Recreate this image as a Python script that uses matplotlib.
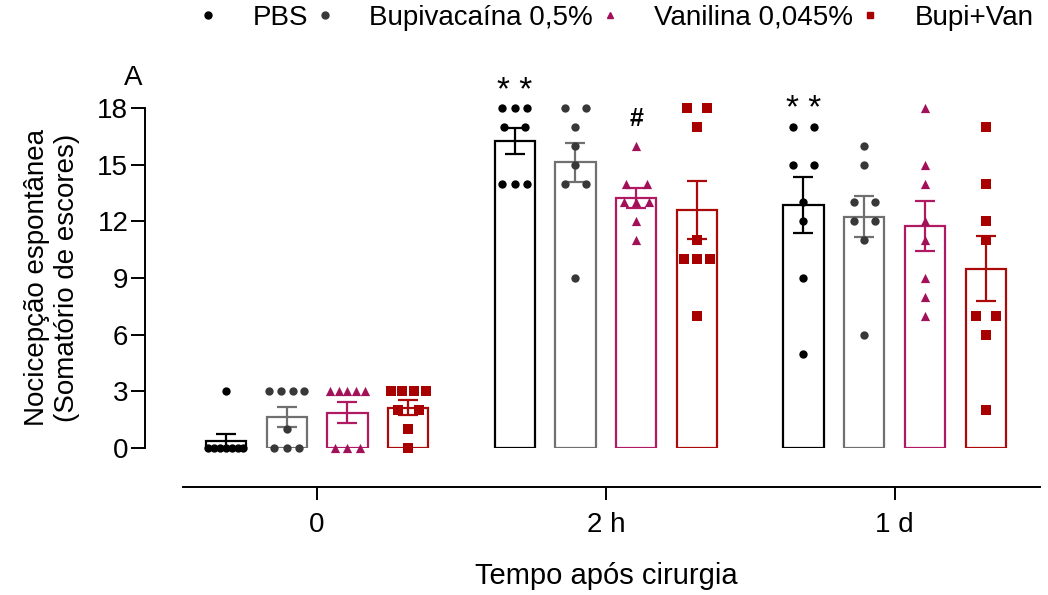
import numpy as np
import matplotlib
matplotlib.use("Agg")
import matplotlib.pyplot as plt
from matplotlib.lines import Line2D

plt.rcParams["font.family"] = ["Liberation Sans", "DejaVu Sans"]

groups = ["0", "2 h", "1 d"]
labels = ["PBS", "Bupivacaína 0,5%", "Vanilina 0,045%", "Bupi+Van"]

# individual scores, one list per group (0, 2 h, 1 d)
pbs = [[3, 0, 0, 0, 0, 0, 0, 0],
       [18, 18, 18, 17, 17, 14, 14, 14],
       [17, 17, 15, 15, 13, 12, 9, 5]]
bupi = [[3, 3, 3, 3, 1, 0, 0, 0],
        [18, 18, 17, 16, 15, 14, 14, 9],
        [16, 15, 13, 13, 12, 12, 11, 6]]
vani = [[3, 3, 3, 3, 3, 0, 0, 0],
        [16, 14, 14, 13, 13, 13, 12, 11],
        [18, 15, 14, 12, 11, 9, 8, 7]]
bupivan = [[3, 3, 3, 3, 2, 2, 1, 0],
           [18, 18, 17, 11, 10, 10, 10, 7],
           [17, 14, 12, 11, 7, 7, 6, 2]]

series = [pbs, bupi, vani, bupivan]
markers = ["o", "o", "^", "s"]
msizes = [36, 36, 44, 46]
ptcolors = ["#000000", "#383838", "#A3105A", "#A80000"]
edgecolors = ["#000000", "#707070", "#B01A62", "#AC0A0A"]

fig = plt.figure(figsize=(10.48, 5.95), dpi=100)
ax = fig.add_axes([145 / 1048, 147 / 595, 895 / 1048, 340 / 595])

gap = 4.75
width = 0.66


def spread(vals):
    # spread tied values sideways like a scatter-dot plot
    vals = np.asarray(vals)
    off = np.zeros(len(vals))
    for v in np.unique(vals):
        idx = np.where(vals == v)[0]
        k = len(idx)
        if k == 1:
            continue
        if k == 2:
            step = 0.34
        else:
            step = min(0.21, 0.58 / (k - 1))
        off[idx] = (np.arange(k) - (k - 1) / 2) * step
    return off


for i, s in enumerate(series):
    for g in range(3):
        vals = np.array(s[g], dtype=float)
        x = g * gap + (i - 1.5)
        m = vals.mean()
        sem = vals.std(ddof=1) / np.sqrt(len(vals))
        ax.bar(x, m, width=width, facecolor="white", edgecolor=edgecolors[i],
               linewidth=1.6, zorder=1)
        ax.errorbar(x, m, yerr=sem, color=edgecolors[i], capsize=7, capthick=1.6,
                    elinewidth=1.6, zorder=2)
        ax.scatter(x + spread(vals), vals, marker=markers[i], s=msizes[i],
                   color=ptcolors[i], linewidths=0, zorder=3, clip_on=False)

# significance marks
ax.text(gap - 1.5, 18.9, "* *", ha="center", va="center", fontsize=24)
ax.text(gap + 0.5, 17.4, "#", ha="center", va="center", fontsize=18, fontweight="bold")
ax.text(2 * gap - 1.5, 17.9, "* *", ha="center", va="center", fontsize=24)

ax.set_xlim(-2.83, 11.89)
ax.set_ylim(0, 18)
ax.set_yticks(np.arange(0, 19, 3))
ax.set_xticks([0, gap, 2 * gap])
ax.set_xticklabels(groups)

ax.spines["top"].set_visible(False)
ax.spines["right"].set_visible(False)
ax.spines["left"].set_linewidth(1.4)
ax.spines["left"].set_bounds(0, 18)
ax.spines["bottom"].set_linewidth(1.4)
ax.spines["bottom"].set_position(("outward", 28))
ax.spines["bottom"].set_bounds(-2.2, 11.89)
ax.tick_params(axis="y", labelsize=20, length=10, width=1.4, pad=2)
ax.tick_params(axis="x", labelsize=20, length=9, width=1.4, pad=9)

fig.text(52 / 1048, 1 - 278 / 595, "Nocicepção espontânea\n(Somatório de escores)",
         rotation=90, ha="center", va="center", fontsize=20, multialignment="center")
fig.text(606 / 1048, 1 - 576 / 595, "Tempo após cirurgia", ha="center", va="center",
         fontsize=21)
fig.text(133 / 1048, 1 - 78 / 595, "A", ha="center", va="center", fontsize=20)

handles = [Line2D([], [], linestyle="none", marker=markers[i], markersize=5,
                  color=ptcolors[i]) for i in range(4)]
fig.legend(handles, labels, ncol=4, loc="center", bbox_to_anchor=(614 / 1048, 1 - 18 / 595),
           frameon=False, fontsize=20, handlelength=1, handletextpad=1.1,
           columnspacing=0.1, borderpad=0, borderaxespad=0)

fig.savefig("out.png", dpi=100)
